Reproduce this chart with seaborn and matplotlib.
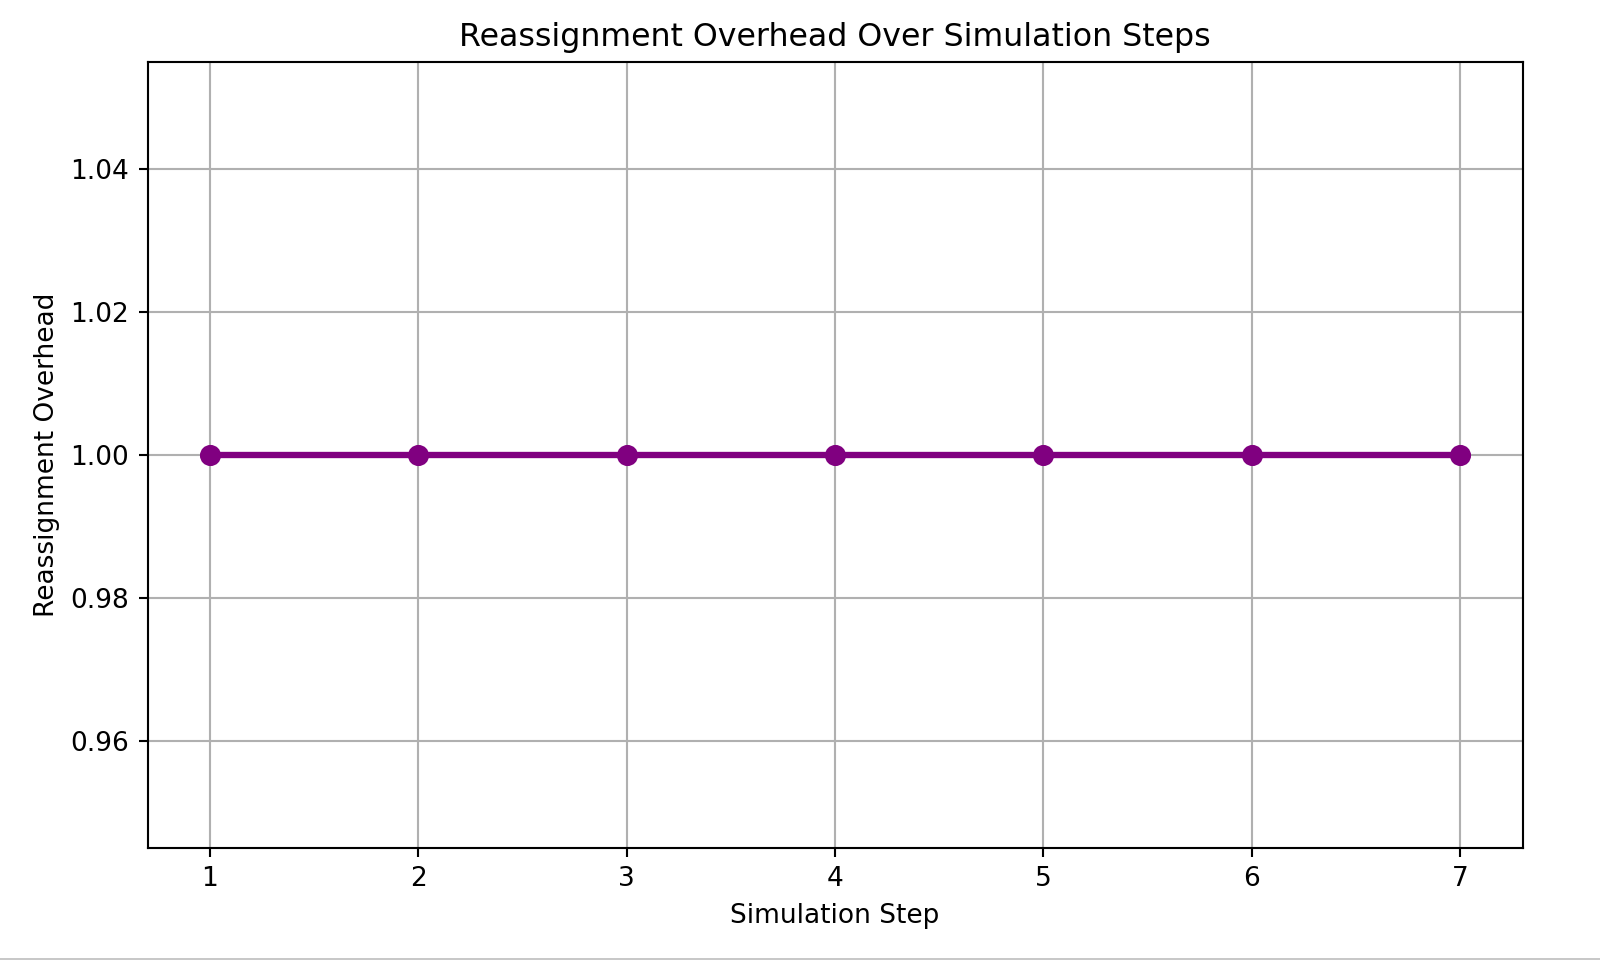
import matplotlib
matplotlib.use("Agg")
import matplotlib.pyplot as plt
from matplotlib.lines import Line2D
import seaborn as sns
import pandas as pd

steps = [1, 2, 3, 4, 5, 6, 7]
overhead = [1.0, 1.0, 1.0, 1.0, 1.0, 1.0, 1.0]

df = pd.DataFrame({"Simulation Step": steps, "Reassignment Overhead": overhead})

DPI = 190
fig = plt.figure(figsize=(1600 / DPI, 962 / DPI), dpi=DPI)
ax = fig.add_axes([147.5 / 1600, 1 - 848 / 962, 1375 / 1600, 786 / 962])
ax.grid(True, color="#b0b0b0", linewidth=0.8, zorder=0)
ax.set_axisbelow(True)

sns.lineplot(data=df, x="Simulation Step", y="Reassignment Overhead", ax=ax,
             color="purple", marker="o", linewidth=2.4, markersize=7.0,
             markeredgecolor="purple", markeredgewidth=1.0, zorder=3)

ax.set_title("Reassignment Overhead Over Simulation Steps", fontsize=12)
ax.set_xlabel("Simulation Step", fontsize=10)
ax.set_ylabel("Reassignment Overhead", fontsize=10)

# thin separator line at bottom of the screenshot
fig.add_artist(Line2D([0, 1], [1 - 959 / 962, 1 - 959 / 962], transform=fig.transFigure,
                      color="#c8c8c8", linewidth=2 * 72 / DPI))

fig.savefig("out.png", dpi=DPI)
